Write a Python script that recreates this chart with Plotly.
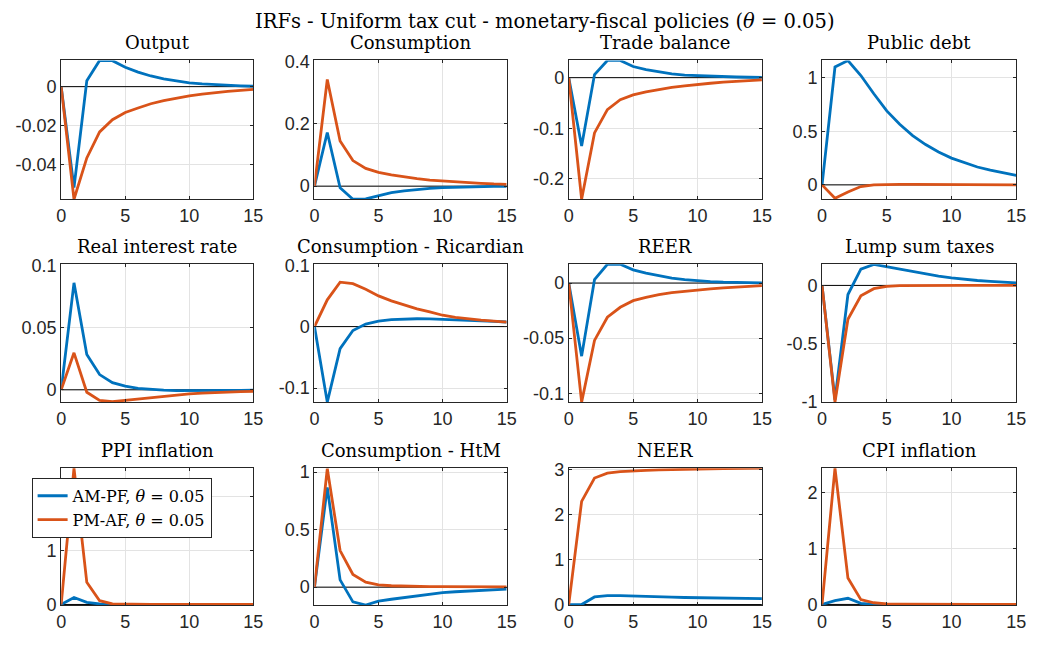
import plotly.graph_objects as go

# ---------------- data ----------------
t = list(range(16))

output_ampf = [0, -0.052, 0.003, 0.0135, 0.0134, 0.010, 0.0075, 0.0055, 0.004, 0.003, 0.002, 0.0014, 0.001, 0.0007, 0.0004, 0.0002]
output_pmaf = [0, -0.058, -0.0367, -0.0233, -0.017, -0.0133, -0.011, -0.0088, -0.0072, -0.0058, -0.0047, -0.0038, -0.003, -0.0024, -0.0019, -0.0014]

cons_ampf = [0, 0.172, -0.005, -0.042, -0.041, -0.03, -0.021, -0.015, -0.01, -0.007, -0.005, -0.0035, -0.0025, -0.0017, -0.001, -0.0006]
cons_pmaf = [0, 0.342, 0.145, 0.082, 0.057, 0.044, 0.036, 0.029, 0.024, 0.019, 0.016, 0.013, 0.011, 0.009, 0.007, 0.006]

tb_ampf = [0, -0.135, 0.006, 0.034, 0.034, 0.022, 0.016, 0.011, 0.0075, 0.005, 0.0038, 0.0028, 0.002, 0.0013, 0.0008, 0.0005]
tb_pmaf = [0, -0.24, -0.109, -0.063, -0.0435, -0.034, -0.028, -0.023, -0.019, -0.016, -0.013, -0.011, -0.009, -0.0072, -0.0057, -0.0045]

debt_ampf = [0, 1.10, 1.16, 1.02, 0.85, 0.69, 0.565, 0.46, 0.376, 0.307, 0.25, 0.205, 0.167, 0.137, 0.111, 0.088]
debt_pmaf = [0, -0.125, -0.066, -0.015, 0.0, 0.005, 0.005, 0.004, 0.003, 0.002, 0.0015, 0.001, 0.0007, 0.0005, 0.0003, 0.0002]

rir_ampf = [0, 0.0859, 0.0284, 0.0122, 0.0057, 0.0029, 0.0012, 0.0003, -0.0003, -0.0006, -0.0007, -0.0007, -0.0006, -0.0005, -0.0004, -0.0003]
rir_pmaf = [0, 0.0297, -0.002, -0.0086, -0.0095, -0.0085, -0.0072, -0.006, -0.005, -0.0042, -0.0032, -0.0026, -0.0021, -0.0017, -0.0014, -0.0012]

cric_ampf = [0, -0.123, -0.036, -0.0063, 0.0042, 0.009, 0.0115, 0.0125, 0.0128, 0.0126, 0.012, 0.0113, 0.0105, 0.0095, 0.0085, 0.0075]
cric_pmaf = [0, 0.0436, 0.0724, 0.070, 0.061, 0.05, 0.042, 0.035, 0.029, 0.024, 0.0185, 0.015, 0.0125, 0.0105, 0.0088, 0.0072]

reer_ampf = [0, -0.0663, 0.003, 0.017, 0.017, 0.012, 0.009, 0.0065, 0.0045, 0.003, 0.002, 0.0013, 0.0008, 0.0005, 0.0003, 0.0002]
reer_pmaf = [0, -0.108, -0.052, -0.031, -0.022, -0.016, -0.013, -0.0105, -0.0087, -0.0074, -0.0064, -0.0053, -0.0044, -0.0037, -0.003, -0.0024]

lump_ampf = [0, -0.98, -0.078, 0.139, 0.18, 0.16, 0.14, 0.118, 0.098, 0.08, 0.065, 0.052, 0.042, 0.034, 0.027, 0.022]
lump_pmaf = [0, -1.0, -0.29, -0.089, -0.028, -0.008, -0.002, -0.0005, 0, 0, 0, 0, 0, 0, 0, 0]

ppi_ampf = [0, 0.13, 0.04, 0.01, 0.0, -0.005, -0.005, -0.004, -0.003, -0.002, -0.002, -0.001, -0.001, -0.001, 0, 0]
ppi_pmaf = [0, 2.53, 0.41, 0.07, 0.01, 0.002, 0.0, 0.0, 0, 0, 0, 0, 0, 0, 0, 0]

htm_ampf = [0, 0.867, 0.063, -0.128, -0.155, -0.122, -0.105, -0.09, -0.077, -0.066, -0.048, -0.04, -0.034, -0.028, -0.022, -0.017]
htm_pmaf = [0, 1.03, 0.318, 0.11, 0.043, 0.02, 0.012, 0.008, 0.006, 0.005, 0.004, 0.004, 0.003, 0.003, 0.003, 0.003]

neer_ampf = [0, 0.0, 0.17, 0.2, 0.2, 0.195, 0.185, 0.175, 0.165, 0.157, 0.15, 0.145, 0.14, 0.137, 0.133, 0.13]
neer_pmaf = [0, 2.30, 2.82, 2.93, 2.96, 2.98, 2.99, 3.0, 3.01, 3.015, 3.02, 3.025, 3.03, 3.033, 3.036, 3.04]

cpi_ampf = [0, 0.069, 0.11, 0.02, 0.0, -0.003, -0.003, -0.002, -0.002, -0.001, -0.001, 0, 0, 0, 0, 0]
cpi_pmaf = [0, 2.43, 0.47, 0.086, 0.03, 0.01, 0.005, 0.002, 0, 0, 0, 0, 0, 0, 0, 0]

titles = ["Output", "Consumption", "Trade balance", "Public debt",
          "Real interest rate", "Consumption - Ricardian", "REER", "Lump sum taxes",
          "PPI inflation", "Consumption - HtM", "NEER", "CPI inflation"]

series_ampf = [output_ampf, cons_ampf, tb_ampf, debt_ampf, rir_ampf, cric_ampf,
               reer_ampf, lump_ampf, ppi_ampf, htm_ampf, neer_ampf, cpi_ampf]
series_pmaf = [output_pmaf, cons_pmaf, tb_pmaf, debt_pmaf, rir_pmaf, cric_pmaf,
               reer_pmaf, lump_pmaf, ppi_pmaf, htm_pmaf, neer_pmaf, cpi_pmaf]

y_tickvals = [[-0.04, -0.02, 0], [0, 0.2, 0.4], [-0.2, -0.1, 0], [0, 0.5, 1],
              [0, 0.05, 0.1], [-0.1, 0, 0.1], [-0.1, -0.05, 0], [-1, -0.5, 0],
              [0, 1, 2], [0, 0.5, 1], [0, 1, 2, 3], [0, 1, 2]]
y_ticktext = [["-0.04", "-0.02", "0"], ["0", "0.2", "0.4"], ["-0.2", "-0.1", "0"], ["0", "0.5", "1"],
              ["0", "0.05", "0.1"], ["-0.1", "0", "0.1"], ["-0.1", "-0.05", "0"], ["-1", "-0.5", "0"],
              ["0", "1", "2"], ["0", "0.5", "1"], ["0", "1", "2", "3"], ["0", "1", "2"]]
x_tickvals = [0, 5, 10, 15]

legend_names = ["AM-PF, <i>θ</i> = 0.05", "PM-AF, <i>θ</i> = 0.05"]
fig_title = "IRFs - Uniform tax cut - monetary-fiscal policies (<i>θ</i> = 0.05)"

# ---------------- layout (styles) ----------------
W, H = 1040, 648
y_ranges = [[-0.058, 0.0135], [-0.042, 0.403], [-0.24, 0.034], [-0.134, 1.161],
            [-0.0099, 0.1008], [-0.123, 0.1015], [-0.108, 0.017], [-1.0, 0.181],
            [-0.01, 2.53], [-0.155, 1.034], [-0.01, 3.04], [-0.01, 2.43]]
col_px = [(57, 252), (314, 509), (572, 768), (829, 1026)]
row_px = [(53, 196), (263, 405), (473, 614)]

BLUE = "#0072BD"
ORANGE = "#D95319"
AXCOL = "#262626"
GRID = "#e3e3e3"
SERIF = "DejaVu Serif"
SANS = "Liberation Sans"

fig = go.Figure()
layout = dict(width=W, height=H, margin=dict(l=0, r=0, t=0, b=0),
              paper_bgcolor="white", plot_bgcolor="white", showlegend=True)
annotations = []
shapes = []

for i in range(12):
    r, c = divmod(i, 4)
    k = i + 1
    xs = "x" if k == 1 else f"x{k}"
    ys = "y" if k == 1 else f"y{k}"
    xkey = "xaxis" if k == 1 else f"xaxis{k}"
    ykey = "yaxis" if k == 1 else f"yaxis{k}"
    x0, x1 = col_px[c]
    y0, y1 = row_px[r]
    common = dict(showline=True, linecolor=AXCOL, linewidth=1, mirror="ticks",
                  ticks="inside", ticklen=3, tickcolor=AXCOL, showgrid=True,
                  gridcolor=GRID, gridwidth=1, zeroline=False,
                  tickfont=dict(family=SANS, size=18, color=AXCOL))
    layout[xkey] = dict(domain=[x0 / W, x1 / W], range=[0, 15], anchor=ys,
                        tickvals=x_tickvals, ticktext=[str(v) for v in x_tickvals], **common)
    layout[ykey] = dict(domain=[1 - y1 / H, 1 - y0 / H], range=y_ranges[i], anchor=xs,
                        tickvals=y_tickvals[i], ticktext=y_ticktext[i], **common)

    fig.add_trace(go.Scatter(x=t, y=series_ampf[i], xaxis=xs, yaxis=ys, mode="lines",
                             line=dict(color=BLUE, width=2.8), name=legend_names[0],
                             legendgroup="a", showlegend=(i == 0), cliponaxis=True))
    fig.add_trace(go.Scatter(x=t, y=series_pmaf[i], xaxis=xs, yaxis=ys, mode="lines",
                             line=dict(color=ORANGE, width=2.8), name=legend_names[1],
                             legendgroup="b", showlegend=(i == 0), cliponaxis=True))
    shapes.append(dict(type="line", xref=xs, yref=ys, x0=0, x1=15, y0=0, y1=0,
                       line=dict(color="black", width=1), layer="between"))
    annotations.append(dict(text=titles[i], xref="paper", yref="paper",
                            x=(x0 + x1) / 2 / W, y=1 - (y0 - 18) / H,
                            xanchor="center", yanchor="middle", showarrow=False,
                            font=dict(family=SERIF, size=18, color="black")))

annotations.append(dict(text=fig_title, xref="paper", yref="paper", x=548 / W, y=1 - 13 / H,
                        xanchor="center", yanchor="middle", showarrow=False,
                        font=dict(family=SERIF, size=19.5, color="black")))

layout["annotations"] = annotations
layout["shapes"] = shapes
layout["legend"] = dict(x=27 / W, y=1 - 483 / H, xanchor="left", yanchor="top",
                        bgcolor="white", bordercolor=AXCOL, borderwidth=1,
                        font=dict(family=SERIF, size=16, color="black"),
                        tracegroupgap=0, traceorder="normal")
fig.update_layout(**layout)

fig.write_html("out.html")
